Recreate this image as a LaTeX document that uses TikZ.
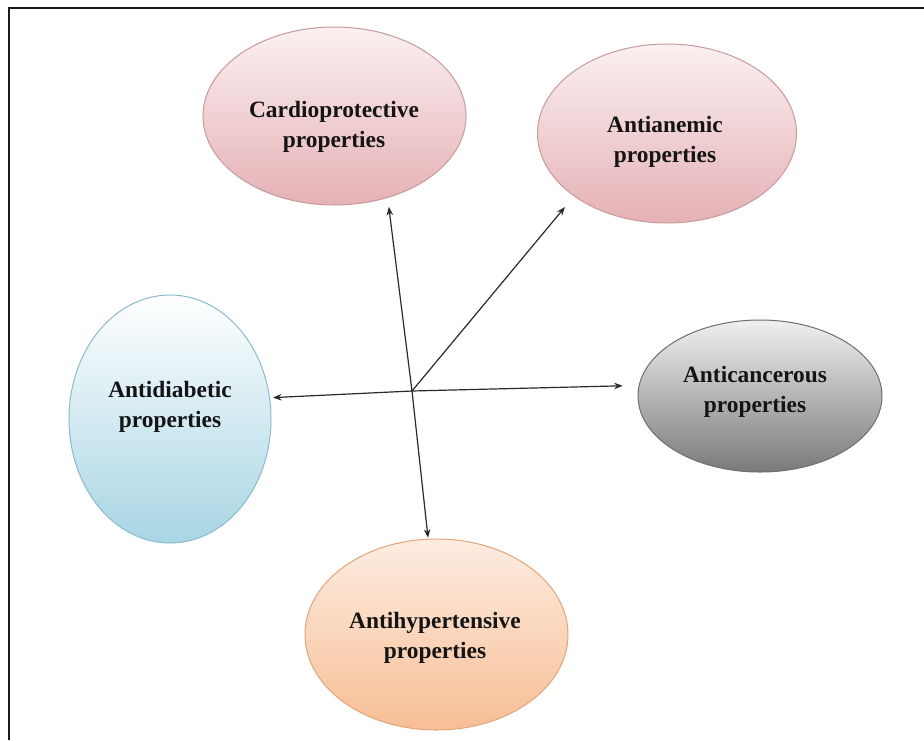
\documentclass[tikz,border=0pt]{standalone}
\usepackage{fontspec}
\setmainfont{Liberation Serif}
\usetikzlibrary{shapes.geometric,arrows.meta}
\definecolor{pinkTop}{HTML}{FBF0F1}
\definecolor{pinkBot}{HTML}{E5B1B5}
\definecolor{pinkLine}{HTML}{C99A9D}
\definecolor{blueTop}{HTML}{FFFFFF}
\definecolor{blueBot}{HTML}{A8D5E4}
\definecolor{blueLine}{HTML}{8CBCCB}
\definecolor{grayTop}{HTML}{F0F0F0}
\definecolor{grayBot}{HTML}{7A7A7A}
\definecolor{grayLine}{HTML}{6E6E6E}
\definecolor{peachTop}{HTML}{FDEDE1}
\definecolor{peachBot}{HTML}{F7BE95}
\definecolor{peachLine}{HTML}{E2A57A}
\definecolor{arrowCol}{HTML}{2A2A2A}
\begin{document}
\begin{tikzpicture}[x=1pt,y=-1pt,
  bubble/.style={ellipse, draw, line width=1pt, inner sep=0pt},
  pinkbubble/.style={bubble, draw=pinkLine, top color=pinkTop, bottom color=pinkBot},
  bluebubble/.style={bubble, draw=blueLine, top color=blueTop, bottom color=blueBot},
  graybubble/.style={bubble, draw=grayLine, top color=grayTop, bottom color=grayBot},
  peachbubble/.style={bubble, draw=peachLine, top color=peachTop, bottom color=peachBot},
  label/.style={inner sep=0pt, align=center, text=black!92,
    font=\bfseries\fontsize{23.4}{30}\selectfont},
  arr/.style={draw=arrowCol, line width=1.2pt, -{Stealth[length=8.5pt,width=6.5pt]}}
]
\useasboundingbox (0,0) rectangle (924,740);
\fill[white] (0,0) rectangle (924,740);
% frame (top and left edges)
\draw[line width=2.6pt, black!90] (9,740) -- (9,8) -- (924,8);

% bubbles
\node[pinkbubble, minimum width=263pt, minimum height=178pt] (cardio) at (334.5,116) {};
\node[pinkbubble, minimum width=259pt, minimum height=179pt] (anemia) at (667,133.5) {};
\node[bluebubble, minimum width=202pt, minimum height=248pt] (diab) at (170,419) {};
\node[graybubble, minimum width=244pt, minimum height=152pt] (cancer) at (760,396) {};
\node[peachbubble, minimum width=263pt, minimum height=191pt] (hyper) at (436.5,634.5) {};

% labels
\node[label] (cardiot) at (334,127) {Cardioprotective\\properties};
\node[label] (anemiat) at (665,141.5) {Antianemic\\properties};
\node[label] (diabt) at (170,407) {Antidiabetic\\properties};
\node[label] (cancert) at (755,391.5) {Anticancerous\\properties};
\node[label] (hypert) at (435,637.5) {Antihypertensive\\properties};

% hub and connectors
\coordinate (hub) at (412,391);
\draw[arr, shorten >=9pt] (hub) -- (cardio.-57);
\draw[arr, shorten >=14pt] (hub) -- (anemia.214);
\draw[arr, shorten >=3pt] (hub) -- (diab.12.4);
\draw[arr, shorten >=16pt] (hub) -- (cancer.175.6);
\draw[arr, shorten >=1pt] (hub) -- (hyper.95);
\end{tikzpicture}
\end{document}
